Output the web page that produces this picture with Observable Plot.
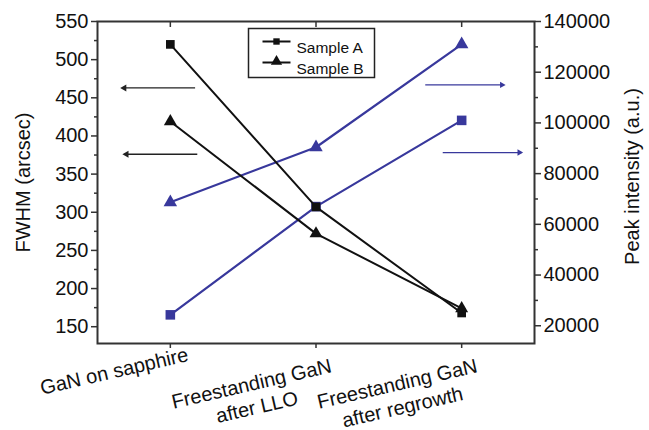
<!DOCTYPE html>
<html>
<head>
<meta charset="utf-8">
<script src="https://cdn.jsdelivr.net/npm/d3@7"></script>
<script src="https://cdn.jsdelivr.net/npm/@observablehq/plot@0.6"></script>
<style>
  html, body { margin: 0; padding: 0; background: #fff; }
</style>
</head>
<body>
<div id="chart"></div>
<script>
// ---- data ----
const categories = ["GaN on sapphire", "Freestanding GaN\nafter LLO", "Freestanding GaN\nafter regrowth"];
const fwhmA = [520, 307, 168];        // Sample A, FWHM (arcsec), left axis
const fwhmB = [419, 272, 174];        // Sample B, FWHM (arcsec), left axis
const intensityA = [24300, 67000, 101000];  // Sample A, peak intensity, right axis
const intensityB = [68700, 90400, 131000];  // Sample B, peak intensity, right axis
const leftTicks = [150, 200, 250, 300, 350, 400, 450, 500, 550];
const leftMinor = [175, 225, 275, 325, 375, 425, 475, 525];
const rightTicks = [20000, 40000, 60000, 80000, 100000, 120000, 140000];
const rightMinor = [30000, 50000, 70000, 90000, 110000, 130000];
const leftDomain = [128, 550];
const rightDomain = [13000, 140000];
const series = ["Sample A", "Sample B"];
// annotation arrows (index-space x, axis-value y)
const leftArrowY = [463, 376];
const leftArrowFrom = [0.17, 0.185];
const leftArrowTo = [-0.33, -0.315];
const rightArrowY = [115000, 88300];
const rightArrowFrom = [1.75, 1.87];
const rightArrowTo = [2.29, 2.41];

// ---- build ----
const yR = d3.scaleLinear(rightDomain, leftDomain); // right-axis values -> left scale
const idx = categories.map((_, i) => i);
const black = "#111";
const blue = "#38389c";
const axisColor = "#333";
const font = "'Liberation Sans', Arial, Helvetica, sans-serif";

const rows = [];
idx.forEach(i => {
  rows.push({i, s: "A", kind: "fwhm", y: fwhmA[i]});
  rows.push({i, s: "B", kind: "fwhm", y: fwhmB[i]});
  rows.push({i, s: "A", kind: "int", y: yR(intensityA[i])});
  rows.push({i, s: "B", kind: "int", y: yR(intensityB[i])});
});
const sel = (k, s) => rows.filter(d => d.kind === k && d.s === s);

const lineSym = { draw(ctx) { ctx.moveTo(-14, 0); ctx.lineTo(14, 0); } };

const chart = Plot.plot({
  width: 649,
  height: 430,
  marginLeft: 97,
  marginRight: 115,
  marginTop: 21,
  marginBottom: 87,
  x: {type: "linear", domain: [-0.5, 2.5], axis: null},
  y: {domain: leftDomain, axis: null},
  style: {fontFamily: font, fontSize: "20px", background: "#fff", color: "#111", overflow: "visible"},
  marks: [
    // left axis
    Plot.axisY({anchor: "left", ticks: leftTicks, tickSize: 6, tickPadding: 3, stroke: axisColor, strokeWidth: 1.5, label: null, fontSize: 20}),
    Plot.axisY({anchor: "left", ticks: leftMinor, tickSize: 3, text: null, stroke: axisColor, strokeWidth: 1.5, label: null}),
    // right axis
    Plot.axisY({anchor: "right", ticks: rightTicks.map(yR), tickFormat: d => String(Math.round(yR.invert(d) / 1000) * 1000), tickSize: 6, tickPadding: 3, stroke: axisColor, strokeWidth: 1.5, label: null, fontSize: 20}),
    Plot.axisY({anchor: "right", ticks: rightMinor.map(yR), tickSize: 3, text: null, stroke: axisColor, strokeWidth: 1.5, label: null}),
    // bottom category ticks and top inward ticks
    Plot.axisX({anchor: "bottom", ticks: idx, tickSize: 5, text: null, stroke: axisColor, strokeWidth: 1.5, label: null}),
    Plot.tickX(idx, {x: d => d, stroke: axisColor, strokeWidth: 1.5, insetBottom: 316}),
    // axis titles
    Plot.text(["FWHM (arcsec)"], {frameAnchor: "left", textAnchor: "middle", rotate: -90, dx: -74, fontSize: 20, fill: "#111"}),
    Plot.text(["Peak intensity (a.u.)"], {frameAnchor: "right", textAnchor: "middle", rotate: -90, dx: 98, dy: -6, fontSize: 20, fill: "#111"}),
    // category labels
    Plot.text([0], {x: d => d, text: d => categories[d], frameAnchor: "bottom", rotate: -13, dx: -56, dy: 28, textAnchor: "middle", lineAnchor: "middle", fontSize: 20, fill: "#111"}),
    Plot.text([1, 2], {x: d => d, text: d => categories[d], frameAnchor: "bottom", rotate: -13, dx: -62, dy: 51, textAnchor: "middle", lineAnchor: "middle", lineHeight: 1.2, fontSize: 20, fill: "#111"}),
    // arrows
    Plot.link([0, 1], {x1: i => leftArrowFrom[i], x2: i => leftArrowTo[i], y1: i => leftArrowY[i], y2: i => leftArrowY[i], stroke: "#222", strokeWidth: 1.3}),
    Plot.dot([0, 1], {x: i => leftArrowTo[i], y: i => leftArrowY[i], symbol: "triangle", rotate: -90, r: 2.6, fill: "#222", dx: 2}),
    Plot.link([0, 1], {x1: i => rightArrowFrom[i], x2: i => rightArrowTo[i], y1: i => yR(rightArrowY[i]), y2: i => yR(rightArrowY[i]), stroke: blue, strokeWidth: 1.1}),
    Plot.dot([0, 1], {x: i => rightArrowTo[i], y: i => yR(rightArrowY[i]), symbol: "triangle", rotate: 90, r: 2.4, fill: blue, dx: -2}),
    // blue intensity lines
    Plot.line(sel("int", "A"), {x: "i", y: "y", stroke: blue, strokeWidth: 2.2}),
    Plot.line(sel("int", "B"), {x: "i", y: "y", stroke: blue, strokeWidth: 2.2}),
    Plot.dot(sel("int", "A"), {x: "i", y: "y", symbol: "square", r: 5.4, fill: blue}),
    Plot.dot(sel("int", "B"), {x: "i", y: "y", symbol: "triangle", r: 5, fill: blue}),
    // black FWHM lines
    Plot.line(sel("fwhm", "A"), {x: "i", y: "y", stroke: black, strokeWidth: 2}),
    Plot.line(sel("fwhm", "B"), {x: "i", y: "y", stroke: black, strokeWidth: 2}),
    Plot.dot(sel("fwhm", "A"), {x: "i", y: "y", symbol: "square", r: 4.9, fill: black}),
    Plot.dot(sel("fwhm", "B"), {x: "i", y: "y", symbol: "triangle", r: 4.8, fill: black}),
    // legend
    Plot.frame({stroke: "#222", strokeWidth: 1.5, fill: "#fff", insetLeft: 151, insetRight: 160, insetTop: 7, insetBottom: 266}),
    Plot.dot([0], {frameAnchor: "top-left", dx: 179, dy: 20, symbol: lineSym, stroke: black, strokeWidth: 2}),
    Plot.dot([0], {frameAnchor: "top-left", dx: 179, dy: 20, symbol: "square", r: 3.6, fill: black}),
    Plot.dot([0], {frameAnchor: "top-left", dx: 179, dy: 41, symbol: lineSym, stroke: black, strokeWidth: 2}),
    Plot.dot([0], {frameAnchor: "top-left", dx: 179, dy: 40, symbol: "triangle", r: 4.2, fill: black}),
    Plot.text([series[0]], {frameAnchor: "top-left", dx: 199, dy: 20, textAnchor: "start", fontSize: 15.5, fill: "#111"}),
    Plot.text([series[1]], {frameAnchor: "top-left", dx: 199, dy: 41, textAnchor: "start", fontSize: 15.5, fill: "#111"}),
    // plot frame
    Plot.frame({stroke: axisColor, strokeWidth: 2})
  ]
});
document.getElementById("chart").appendChild(chart);
</script>
</body>
</html>
